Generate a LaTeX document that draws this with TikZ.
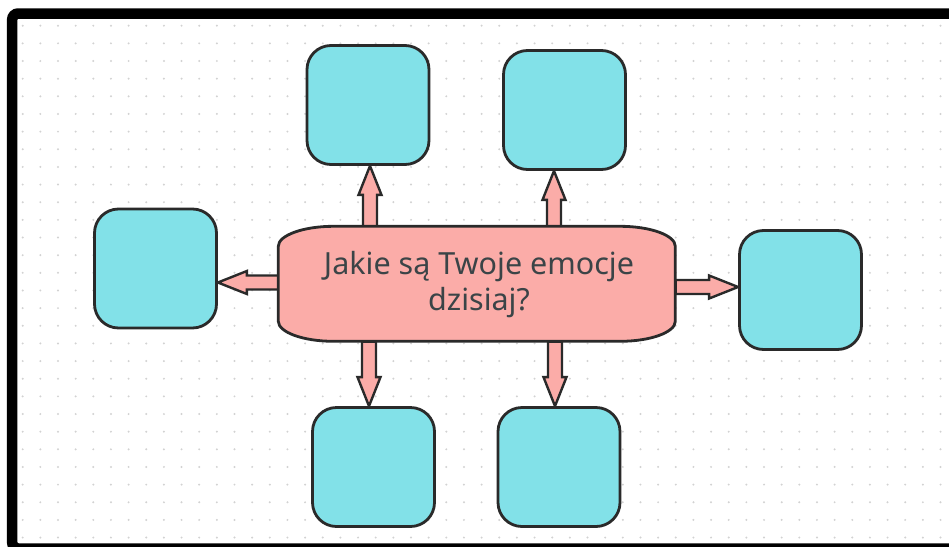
\documentclass[tikz,border=0pt]{standalone}
\usepackage{fontspec}
\setmainfont{Noto Sans}
\usetikzlibrary{calc}
\definecolor{boxcyan}{HTML}{82E1E8}
\definecolor{arrpink}{HTML}{FBACA8}
\definecolor{edgec}{HTML}{2A2A2A}
\definecolor{txtc}{HTML}{3B4447}
\definecolor{dotgray}{HTML}{D2D2D2}
\pgfdeclarelayer{bg}
\pgfdeclarelayer{mid}
\pgfsetlayers{bg,mid,main}
\newcommand\blockarrow[3]{%
  \coordinate (hb#3) at ($(#2)!29pt!(#1)$);
  \draw[blockarr]
    ($(#1)!7pt!90:(#2)$) -- ($(hb#3)!7pt!-90:(#1)$) -- ($(hb#3)!11.5pt!-90:(#1)$)
    -- (#2) -- ($(hb#3)!11.5pt!90:(#1)$) -- ($(hb#3)!7pt!90:(#1)$)
    -- ($(#1)!7pt!-90:(#2)$) -- cycle;}
\begin{document}
\begin{tikzpicture}[x=1pt,y=-1pt,
  emobox/.style={draw=edgec, line width=2.8pt, fill=boxcyan, rounded corners=24pt,
    minimum width=122pt, minimum height=119pt, inner sep=0pt},
  blockarr/.style={draw=edgec, line width=2.4pt, fill=arrpink, line join=miter},
  centershape/.style={draw=edgec, line width=2.8pt, fill=arrpink},
  centertext/.style={minimum width=397pt, minimum height=115pt, inner sep=0pt,
    text=txtc, align=center, font=\fontsize{30.5}{36}\selectfont}
]
\useasboundingbox (0,0) rectangle (949,546);
\begin{pgfonlayer}{bg}
  \fill[white] (0,0) rectangle (949,546);
  \foreach \i in {0,...,52} \foreach \j in {0,...,29}
    \fill[dotgray] ({22.7+\i*17.65},{25.7+\j*17.65}) circle (1.1);
  \draw[black, line width=10.5pt, rounded corners=6pt] (12.2,13.5) rectangle (980,548.5);
\end{pgfonlayer}

\node[emobox] (tl) at (368,105) {};
\node[emobox] (tr) at (564.5,110) {};
\node[emobox] (l) at (155.5,268.5) {};
\node[emobox] (r) at (800.5,290) {};
\node[emobox] (bl) at (373.5,467) {};
\node[emobox] (br) at (559,467) {};
\node[centertext] (c) at (477,284) {};
\node[text=txtc, align=center, inner sep=0pt, font=\fontsize{30.5}{36}\selectfont]
  (ctext) at ($(c.center)+(2,1)$) {Jakie są Twoje emocje\\dzisiaj?};

\coordinate (s1) at ($(c.north)+(-107,0)$);
\coordinate (s2) at ($(c.north)+(77,0)$);
\coordinate (s3) at ($(c.south)+(-108,0)$);
\coordinate (s4) at ($(c.south)+(78,0)$);
\coordinate (s5) at ($(c.west)+(0,-1.5)$);
\coordinate (s6) at ($(c.east)+(0,3)$);

\begin{pgfonlayer}{mid}
  \blockarrow{s1}{tl.south -| s1}{a}
  \blockarrow{s2}{tr.south -| s2}{b}
  \blockarrow{s3}{bl.north -| s3}{c}
  \blockarrow{s4}{br.north -| s4}{d}
  \blockarrow{s5}{l.east |- s5}{e}
  \blockarrow{s6}{r.west |- s6}{f}
  \draw[centershape, shift={(c.north west)}]
    (55,0) -- (342,0) .. controls (372,0) and (397,9) .. (397,20)
    -- (397,95) .. controls (397,106) and (372,115) .. (342,115)
    -- (55,115) .. controls (25,115) and (0,106) .. (0,95)
    -- (0,20) .. controls (0,9) and (25,0) .. (55,0) -- cycle;
\end{pgfonlayer}
\end{tikzpicture}
\end{document}
